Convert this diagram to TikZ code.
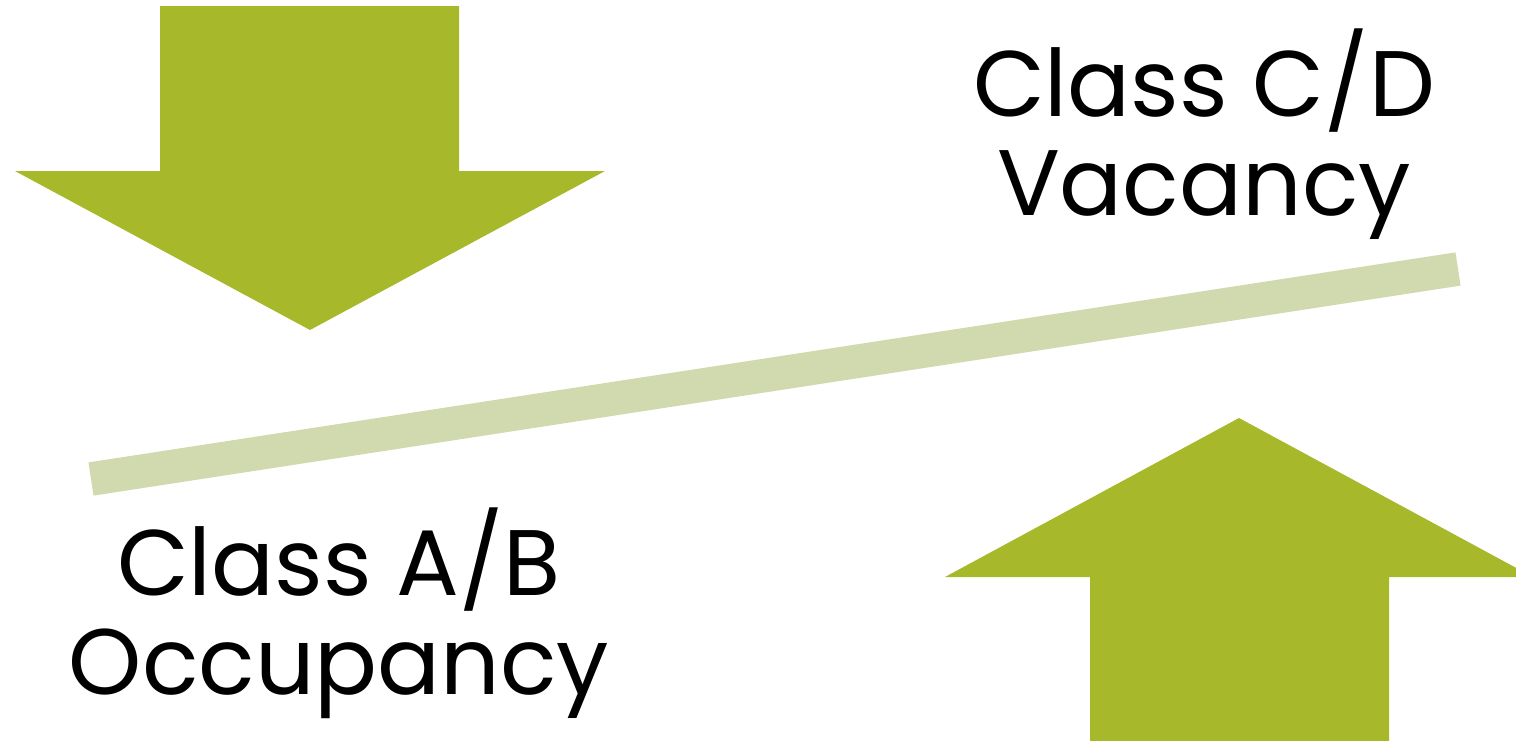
\documentclass[tikz,border=0pt]{standalone}
\usepackage{fontspec}
\setmainfont{Poppins}
\usepackage{tikz}
\usetikzlibrary{positioning}
\definecolor{arrowgreen}{HTML}{A7B82A}
\definecolor{bargreen}{HTML}{D1D9AE}

\begin{document}
\begin{tikzpicture}[
        x=0.02cm, y=-0.02cm,
        bigarrow/.style={fill=arrowgreen, draw=none},
        bar/.style={draw=bargreen, line width=0.672cm, line cap=butt},
        label/.style={align=center, anchor=base, inner sep=0pt, font=\fontsize{53}{56.3}\selectfont}
    ]
    \useasboundingbox (0,0) rectangle (1516,741);
    \clip (0,0) rectangle (1516,741);

    % Arrows
    \fill[bigarrow] (160,6) -- (459,6) -- (459,171) -- (605,171) -- (310,330) -- (15,171) -- (160,171) -- cycle;
    \fill[bigarrow] (1090,741) -- (1389,741) -- (1389,577) -- (1533,577) -- (1239,418) -- (945,577) -- (1090,577) -- cycle;

    % Labels (base = baseline of the last line)
    \node[label] (vacancy) at (1204,215) {Class C/D\\Vacancy};
    \node[label] (occupancy) at (339,694) {Class A/B\\Occupancy};

    % Tilted bar
    \coordinate (barleft) at (91,479);
    \coordinate (barright) at (1458,269);
    \draw[bar] (barleft) -- (barright);
\end{tikzpicture}
\end{document}
